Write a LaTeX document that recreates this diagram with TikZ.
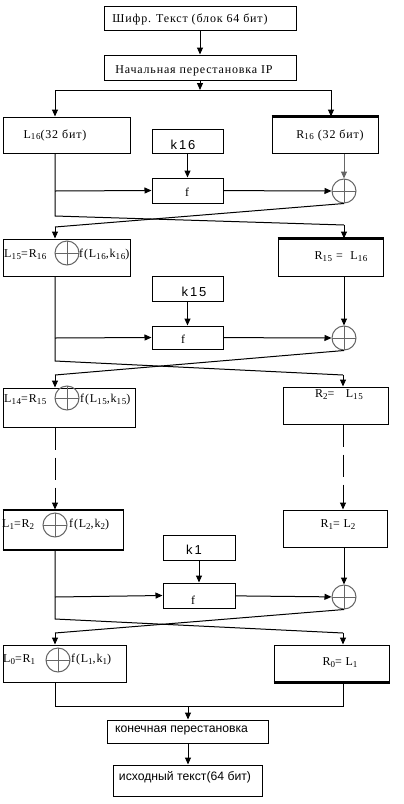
\documentclass[tikz,border=0pt]{standalone}
\usepackage{fontspec}
\setmainfont{Liberation Serif}[LetterSpace=7]
\newfontfamily\sansf{Liberation Sans}
\newfontfamily\sansk{Liberation Sans}[LetterSpace=14]
\usetikzlibrary{arrows.meta}
\newcommand{\lowidx}[1]{\raisebox{-0.35ex}{\fontsize{9}{10}\selectfont #1}}
\begin{document}
\begin{tikzpicture}[x=1pt,y=-1pt,
  box/.style={draw,line width=1pt,rectangle,inner sep=0pt},
  txt/.style={inner sep=0pt,font=\fontsize{12}{13}\selectfont},
  stxt/.style={inner sep=0pt,font=\sansf\fontsize{12.2}{14}\selectfont},
  ktxt/.style={inner sep=0pt,font=\sansk\fontsize{13}{14}\selectfont},
  xor/.style={circle,draw=black!60,line width=1pt,minimum size=24pt,inner sep=0pt,
    path picture={\draw[black!60,line width=1pt] (path picture bounding box.north) -- (path picture bounding box.south)
      (path picture bounding box.west) -- (path picture bounding box.east);}},
  arr/.style={-{Triangle[length=7pt,width=6pt]},line width=1pt},
  ln/.style={line width=1pt},
  dsh/.style={dash pattern=on 22pt off 8pt}]
\useasboundingbox (0,0) rectangle (404,804);
% top
\node[box,minimum width=192pt,minimum height=24pt] (top) at (200,18) {};
\node[txt] (ttop) at (190,19) {Шифр. Текст (блок 64 бит)};
\node[box,minimum width=192pt,minimum height=25pt] (ip) at (200,67.5) {};
\node[txt] (tip) at (194,71) {Начальная перестановка IP};
\coordinate (s0) at (200,90);
\coordinate (sL) at (55,90);
\coordinate (sR) at (331,90);
% round 16
\node[box,minimum width=127pt,minimum height=36pt] (L16) at (66.5,135) {};
\node[txt] (tL16) at (55,135) {L\lowidx{16}(32 бит)};
\node[box,minimum width=106pt,minimum height=36pt] (R16) at (325,135) {};
\node[txt] (tR16) at (330,135) {R\lowidx{16} (32 бит)};
\node[box,minimum width=71pt,minimum height=24pt] (k16) at (187.5,141) {};
\node[ktxt] (tk16) at (183,145) {k16};
\node[box,minimum width=71pt,minimum height=25pt] (f16) at (187.5,190.5) {};
\node[txt] (tf16) at (187,192) {f};
\node[xor] (x16) at (344,191) {};
\coordinate (a16) at (55,191);
\coordinate (c16a) at (55,216);
\coordinate (c16b) at (344,225);
\coordinate (d16) at (55,227);
% round 15
\node[box,minimum width=127pt,minimum height=37pt] (L15) at (66.5,257.5) {};
\node[txt,anchor=west] (tL15a) at (4,255) {L\lowidx{15}=R\lowidx{16}};
\node[xor] (y15) at (67,253) {};
\node[txt,anchor=west] (tL15b) at (79,255) {f(L\lowidx{16},k\lowidx{16})};
\node[box,minimum width=105pt,minimum height=37pt] (R15) at (330.5,257.5) {};
\node[txt] (tR15) at (341,257) {R\lowidx{15} =\ \ L\lowidx{16}};
\node[box,minimum width=71pt,minimum height=25pt] (k15) at (187.5,288.5) {};
\node[ktxt] (tk15) at (194,292) {k15};
\node[box,minimum width=71pt,minimum height=23pt] (f15) at (187.5,337.5) {};
\node[txt] (tf15) at (183,339) {f};
\node[xor] (x15) at (344,338) {};
\coordinate (a15) at (55,338);
\coordinate (c15a) at (55,361);
\coordinate (c15b) at (343,375);
\coordinate (d15) at (55,375);
% round 14 / 2
\node[box,minimum width=132pt,minimum height=39pt] (L14) at (69,407.5) {};
\node[txt,anchor=west] (tL14a) at (4,400) {L\lowidx{14}=R\lowidx{15}};
\node[xor] (y14) at (67,398) {};
\node[txt,anchor=west] (tL14b) at (80,400) {f(L\lowidx{15},k\lowidx{15})};
\node[box,minimum width=105pt,minimum height=37pt] (R2) at (335.5,405.5) {};
\node[txt] (tR2) at (339,395) {R\lowidx{2}=\ \ \ L\lowidx{15}};
% round 1
\node[box,minimum width=120pt,minimum height=39pt] (L1) at (63,529.5) {};
\node[txt,anchor=west] (tL1a) at (2,525) {L\lowidx{1}=R\lowidx{2}};
\node[xor] (y1) at (55,525) {};
\node[txt,anchor=west] (tL1b) at (69,525) {f(L\lowidx{2},k\lowidx{2})};
\node[box,minimum width=104pt,minimum height=37pt] (R1) at (335,528.5) {};
\node[txt] (tR1) at (338,525) {R\lowidx{1}= L\lowidx{2}};
\node[box,minimum width=72pt,minimum height=25pt] (k1) at (199,547.5) {};
\node[ktxt] (tk1) at (194,550) {k1};
\node[box,minimum width=72pt,minimum height=25pt] (f1) at (199,595.5) {};
\node[txt] (tf1) at (193,600) {f};
\node[xor] (x1) at (344,597) {};
\coordinate (a1) at (55,597);
\coordinate (c1a) at (55,619);
\coordinate (c1b) at (343,633);
\coordinate (d1) at (55,633);
% round 0
\node[box,minimum width=123pt,minimum height=37pt] (L0) at (64.5,663.5) {};
\node[txt,anchor=west] (tL0a) at (3,660) {L\lowidx{0}=R\lowidx{1}};
\node[xor] (y0) at (58,660) {};
\node[txt,anchor=west] (tL0b) at (71,660) {f(L\lowidx{1},k\lowidx{1})};
\node[box,minimum width=115pt,minimum height=37pt] (R0) at (331.5,663.5) {};
\node[txt] (tR0) at (340,663) {R\lowidx{0}= L\lowidx{1}};
\coordinate (eL) at (55,706);
\coordinate (eR) at (343,706);
\coordinate (e0) at (188,706);
\node[box,minimum width=161pt,minimum height=23pt] (fin) at (187.5,731.5) {};
\node[stxt] (tfin) at (181.5,730) {конечная перестановка};
\node[box,minimum width=149pt,minimum height=31pt] (out) at (187.5,780.5) {};
\node[stxt] (tout) at (185,777) {исходный текст(64 бит)};
% thick edges
\draw[line width=3pt] (R16.north west) -- (R16.north east);
\draw[line width=3pt] (R15.north west) -- (R15.north east);
\draw[line width=2pt] (L1.north west) -- (L1.north east);
\draw[line width=2pt] (L1.south west) -- (L1.south east);
\draw[line width=2.5pt] (R0.south west) -- (R0.south east);
% connectors top
\draw[arr] (top) -- (ip);
\draw[arr] (ip) -- (s0);
\draw[ln] (sL) -- (sR);
\draw[arr] (sL) -- (sL |- L16.north);
\draw[arr] (sR) -- (sR |- R16.north);
% round 16
\draw[arr] (k16) -- (k16 |- f16.north);
\draw[arr] (a16) -- (f16.west);
\draw[arr] (f16) -- (x16);
\draw[arr,black!60] (R16.south -| x16) -- (x16);
\draw[ln] (L16.south -| c16a) -- (c16a) -- (c16b);
\draw[arr] (c16b) -- (c16b |- R15.north);
\draw[ln] (x16.south) -- (d16);
\draw[arr] (d16) -- (d16 |- L15.north);
% round 15
\draw[arr] (k15 |- k15.south) -- (k15 |- f15.north);
\draw[arr] (a15) -- (f15.west);
\draw[arr] (f15) -- (x15);
\draw[arr] (R15.south -| x15) -- (x15);
\draw[ln] (L15.south -| c15a) -- (c15a) -- (c15b);
\draw[arr] (c15b) -- (c15b |- R2.north);
\draw[ln] (x15.south) -- (d15);
\draw[arr] (d15) -- (d15 |- L14.north);
% dashed
\draw[arr,dsh] (L14.south -| a15) -- (L1.north -| a15);
\draw[arr,dsh] (R2.south -| c15b) -- (R1.north -| c15b);
% round 1
\draw[arr] (k1) -- (k1 |- f1.north);
\draw[arr] (a1) -- (f1.west);
\draw[arr] (f1) -- (x1);
\draw[arr] (R1.south -| x1) -- (x1);
\draw[ln] (L1.south -| c1a) -- (c1a) -- (c1b);
\draw[arr] (c1b) -- (c1b |- R0.north);
\draw[ln] (x1.south) -- (d1);
\draw[arr] (d1) -- (d1 |- L0.north);
% final
\draw[ln] (L0.south -| eL) -- (eL) -- (eR) -- (R0.south -| eR);
\draw[arr] (e0) -- (e0 |- fin.north);
\draw[arr] (fin.south -| e0) -- (out.north -| e0);
\end{tikzpicture}
\end{document}
